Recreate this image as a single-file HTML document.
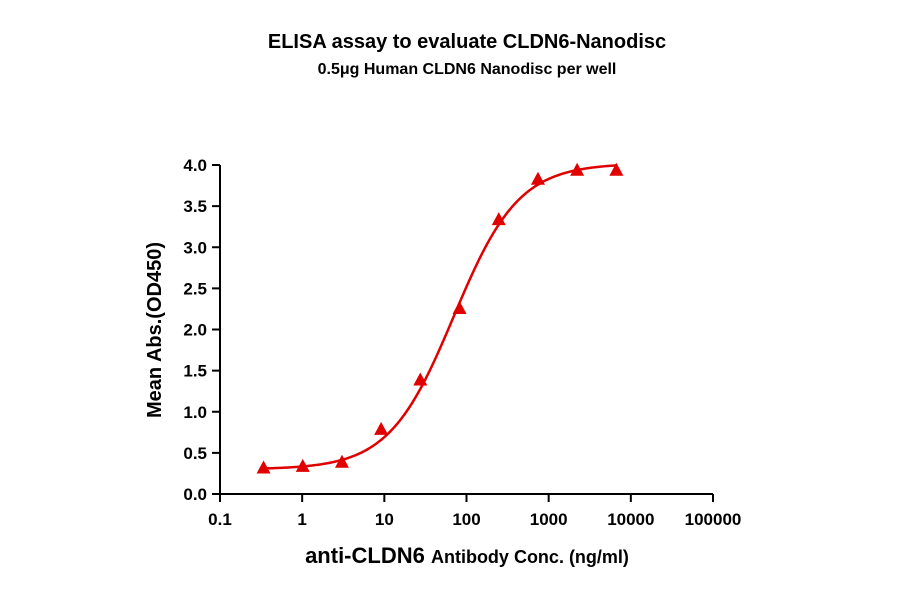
<!DOCTYPE html>
<html><head><meta charset="utf-8"><style>
body{margin:0;background:#fff;}
svg{display:block;font-family:"Liberation Sans",Arial,sans-serif;font-weight:bold;}
</style></head><body>
<svg id="chart" width="900" height="594" viewBox="0 0 900 594">
<text x="467" y="48" text-anchor="middle" font-size="20">ELISA assay to evaluate CLDN6-Nanodisc</text>
<text x="467" y="74" text-anchor="middle" font-size="16">0.5μg Human CLDN6 Nanodisc per well</text>
<text transform="translate(161,330) rotate(-90)" text-anchor="middle" font-size="20">Mean Abs.(OD450)</text>
<text x="467" y="563" text-anchor="middle" font-size="22">anti-CLDN6 <tspan font-size="18">Antibody Conc. (ng/ml)</tspan></text>
<g id="axes"></g><g id="marks"></g>
</svg>
<script>
const concs=[0.339,1.016,3.05,9.14,27.4,82.3,247,741,2222,6667];
const absValues=[0.31,0.33,0.38,0.78,1.38,2.25,3.33,3.82,3.93,3.93];
const yTicks=["0.0","0.5","1.0","1.5","2.0","2.5","3.0","3.5","4.0"];
const xTicks=["0.1","1","10","100","1000","10000","100000"];
const fitParams=[0.3,4.02,70,1.1]; // bottom, top, EC50, hill
const NS="http://www.w3.org/2000/svg";
const X0=220,X1=713,Y0=494,Y1=165;
const xs=v=>X0+(Math.log10(v)+1)/6*(X1-X0);
const ys=v=>Y0-v/4*(Y0-Y1);
function mk(t,a,p){const e=document.createElementNS(NS,t);for(const k in a)e.setAttribute(k,a[k]);p.appendChild(e);return e;}
const ax=document.getElementById('axes'),mg=document.getElementById('marks');
const yl=mk('line',{x1:X0,y1:Y1,x2:X0,y2:Y0,stroke:'#000','stroke-width':2},ax);


const xl=mk('line',{x1:X0,y1:Y0,x2:X1,y2:Y0,stroke:'#000','stroke-width':2},ax);


yTicks.forEach(t=>{const y=ys(+t);
mk('line',{x1:X0-8,y1:y,x2:X0,y2:y,stroke:'#000','stroke-width':2},ax);
const tx=mk('text',{x:X0-13,y:y+6,'text-anchor':'end','font-size':17},ax);tx.textContent=t;

});
xTicks.forEach((t,i)=>{const x=xs(+t);
mk('line',{x1:x,y1:Y0,x2:x,y2:Y0+8,stroke:'#000','stroke-width':2},ax);
const tx=mk('text',{x:x,y:Y0+31,'text-anchor':'middle','font-size':17},ax);tx.textContent=t;

});
const [b,tp,ec,h]=fitParams;
const f=x=>b+(tp-b)/(1+Math.pow(ec/x,h));
let d='';const lo=Math.log10(concs[0]),hi=Math.log10(concs[concs.length-1]);
for(let i=0;i<=200;i++){const lx=lo+(hi-lo)*i/200,x=Math.pow(10,lx);d+=(i?'L':'M')+xs(x).toFixed(2)+','+ys(f(x)).toFixed(2);}
const c=mk('path',{d:d,fill:'none',stroke:'#e00000','stroke-width':2.5},mg);


concs.forEach((v,i)=>{const x=xs(v),y=ys(absValues[i]);
const p=mk('polygon',{points:`${x},${y-8} ${x-7},${y+5} ${x+7},${y+5}`,fill:'#e00000'},mg);

});
</script>
</body></html>
